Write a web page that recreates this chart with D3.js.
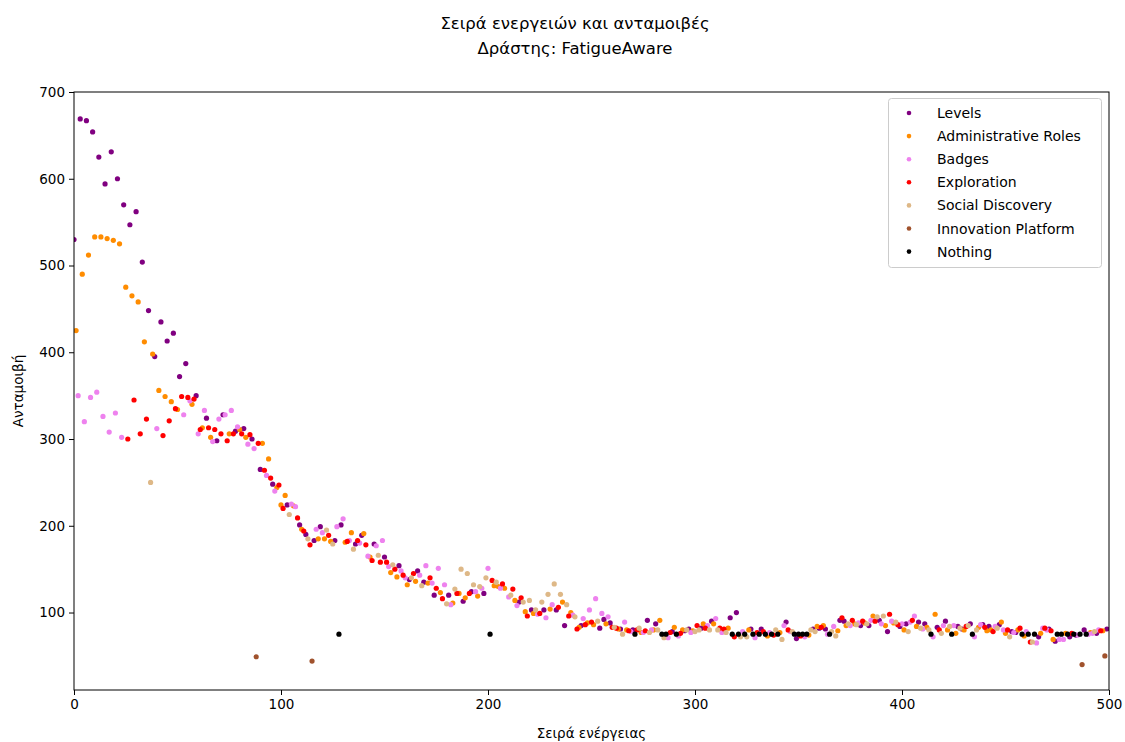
<!DOCTYPE html>
<html><head><meta charset="utf-8">
<script src="https://cdn.jsdelivr.net/npm/d3@7/dist/d3.min.js"></script>
<style>body{margin:0;background:#fff;}svg{display:block;font-family:"DejaVu Sans",sans-serif;}</style>
</head><body><svg id="c" width="1125" height="742"></svg>
<script>
const categories = ["Levels","Administrative Roles","Badges","Exploration","Social Discovery","Innovation Platform","Nothing"];
const colors = ["#800080","#ff8c00","#ee82ee","#ff0000","#deb887","#a0522d","#000000"];
const xTicks = [0,100,200,300,400,500];
const yTicks = [100,200,300,400,500,600,700];

const levels = [[0,530],[3,669],[6,667],[9,654],[12,625],[15,594],[18,631],[21,600],[24,570],[27,547],[30,562],[33,504],[36,448],[39,395],[42,435],[45,413],[48,422],[51,372],[54,387],[59,350],[64,324],[69,298],[72,328],[78,309],[82,312],[86,300],[90,265],[96,248],[103,224],[109,201],[112,190],[116,183],[119,199],[126,183],[129,201],[136,179],[139,189],[145,179],[150,164],[157,154],[162,138],[166,148],[169,135],[174,120],[181,120],[188,113],[192,124],[198,122],[215,112],[221,103],[227,103],[233,103],[237,85],[245,85],[254,82],[256,92],[259,88],[264,81],[270,80],[277,91],[281,87],[289,78],[295,79],[297,81],[303,82],[308,90],[317,94],[320,100],[327,81],[332,81],[344,89],[349,70],[357,81],[360,82],[363,81],[370,91],[372,90],[380,85],[384,85],[389,91],[393,78],[399,84],[402,87],[408,89],[411,87],[417,83],[421,90],[427,84],[429,81],[433,87],[439,86],[442,84],[447,86],[453,78],[455,77],[466,72],[471,81],[474,67],[481,72],[484,74],[488,80],[494,76],[499,81]];
const adminRoles = [[1,425],[4,490],[7,512],[10,533],[13,533],[16,531],[19,529],[22,525],[25,475],[28,465],[31,458],[34,412],[38,398],[41,356],[44,349],[47,343],[50,334],[57,340],[62,313],[66,302],[75,306],[80,311],[83,302],[91,295],[94,277],[98,244],[100,224],[102,235],[106,223],[110,196],[118,185],[121,185],[124,182],[131,181],[134,192],[140,191],[143,164],[153,146],[156,141],[161,132],[165,136],[171,134],[177,123],[183,111],[186,122],[189,117],[195,119],[203,131],[205,130],[208,128],[213,114],[218,101],[222,99],[230,104],[236,112],[240,100],[244,83],[248,88],[251,86],[257,87],[263,81],[267,80],[274,77],[280,80],[283,91],[290,83],[294,80],[299,79],[304,87],[309,87],[316,82],[326,80],[335,73],[341,77],[355,74],[359,84],[362,85],[369,79],[373,85],[377,87],[382,88],[386,96],[392,85],[396,88],[401,80],[407,84],[412,83],[416,98],[422,80],[426,76],[430,80],[437,83],[441,79],[443,80],[448,89],[450,76],[456,80],[459,73],[467,76],[473,69],[479,76],[491,77],[497,79]];
const badges = [[2,350],[5,320],[8,348],[11,354],[14,326],[17,308],[20,330],[23,302],[40,312],[53,328],[56,344],[60,306],[63,333],[67,297],[70,323],[73,328],[76,333],[79,314],[84,294],[87,289],[93,258],[97,240],[105,225],[107,222],[117,196],[120,192],[127,199],[130,208],[133,183],[138,180],[142,165],[146,177],[149,183],[152,153],[158,148],[160,140],[167,143],[170,154],[173,134],[176,151],[179,132],[182,109],[194,124],[197,128],[200,151],[206,128],[210,118],[214,108],[224,98],[228,94],[231,109],[241,97],[246,93],[249,103],[252,116],[255,99],[258,95],[266,89],[269,78],[275,77],[279,80],[287,71],[292,73],[298,77],[306,85],[310,93],[313,77],[323,78],[329,71],[336,77],[343,85],[346,78],[353,72],[364,75],[367,84],[375,85],[379,88],[385,91],[390,87],[395,90],[400,87],[404,89],[406,96],[410,81],[415,72],[420,85],[425,85],[435,72],[438,86],[445,84],[449,80],[454,77],[460,78],[465,65],[468,82],[470,80],[476,69],[478,69],[485,74],[490,75],[492,76],[495,80]];
const exploration = [[26,300],[29,345],[32,306],[35,323],[43,304],[46,321],[49,335],[52,349],[55,348],[58,346],[61,311],[65,313],[68,311],[71,306],[74,298],[77,306],[81,306],[85,305],[89,295],[92,264],[95,255],[99,247],[101,220],[108,209],[111,194],[114,178],[123,189],[132,182],[137,183],[141,178],[144,160],[148,158],[151,158],[155,150],[159,143],[164,145],[172,140],[175,128],[178,116],[185,122],[191,122],[202,137],[207,133],[212,127],[216,117],[219,96],[225,99],[234,106],[239,96],[243,81],[247,86],[250,89],[260,83],[262,82],[268,79],[272,80],[276,79],[288,77],[293,76],[301,85],[305,82],[312,82],[314,81],[319,72],[330,77],[333,78],[338,74],[345,80],[351,73],[361,83],[371,94],[376,91],[381,90],[387,90],[394,98],[398,86],[405,91],[418,80],[431,84],[440,83],[444,78],[451,80],[457,82],[462,66],[469,82],[472,79],[482,76],[496,79]];
const socialDiscovery = [[37,250],[104,213],[113,185],[122,195],[125,179],[135,173],[147,166],[154,155],[163,140],[168,131],[180,110],[184,127],[187,150],[190,145],[193,132],[196,130],[199,140],[204,135],[211,120],[217,112],[220,114],[223,103],[226,112],[229,121],[232,133],[235,121],[238,109],[242,95],[253,90],[261,83],[265,75],[273,82],[278,77],[282,80],[285,71],[296,80],[300,78],[302,80],[307,80],[311,80],[315,77],[322,72],[325,72],[339,80],[342,69],[347,78],[356,80],[358,78],[366,78],[368,73],[374,87],[378,86],[383,87],[388,95],[391,96],[397,89],[403,78],[409,82],[413,80],[419,76],[423,84],[428,82],[432,85],[436,80],[446,82],[452,72],[463,66],[493,78]];
const innovation = [[88,49],[115,44],[487,40],[498,50]];
const nothing = [[128,75],[201,75],[271,75],[284,75],[286,75],[291,75],[318,75],[321,75],[324,75],[328,75],[331,75],[334,75],[337,75],[340,75],[348,75],[350,75],[352,75],[354,75],[365,75],[414,75],[424,75],[434,75],[458,75],[461,75],[464,75],[475,75],[477,75],[480,75],[483,75],[486,75],[489,75]];
const series = [levels, adminRoles, badges, exploration, socialDiscovery, innovation, nothing];

const svg = d3.select("#c");
const L = 74, R = 1109, T = 92, B = 690;
const x = d3.scaleLinear().domain([0,500]).range([L,R]);
const y = d3.scaleLinear().domain([10.7,700]).range([B,T]);

const plot = svg.append("g");
const clip = svg.append("clipPath").attr("id","cp").append("rect").attr("x",L).attr("y",T).attr("width",R-L).attr("height",B-T);
const pts = plot.append("g").attr("clip-path","url(#cp)");
series.forEach((s,i)=>{
  pts.append("g").selectAll("circle").data(s).join("circle")
    .attr("cx",d=>x(d[0])).attr("cy",d=>y(d[1])).attr("r",2.6).attr("fill",colors[i]);
});

const xa = svg.append("g").attr("transform",`translate(0,${B})`).call(d3.axisBottom(x).tickValues(xTicks).tickSize(5).tickPadding(4));
const ya = svg.append("g").attr("transform",`translate(${L},0)`).call(d3.axisLeft(y).tickValues(yTicks).tickSize(5).tickPadding(4));
[xa,ya].forEach(a=>{a.select(".domain").remove();a.selectAll("text").attr("font-size","13.5px").attr("font-family","DejaVu Sans").attr("fill","#000");a.selectAll("line").attr("stroke","#000");});
svg.append("rect").attr("x",L).attr("y",T).attr("width",R-L).attr("height",B-T).attr("fill","none").attr("stroke","#000").attr("stroke-width",1);

svg.append("text").attr("x",(L+R)/2).attr("y",738).attr("text-anchor","middle").attr("font-size","13.5px").text("Σειρά ενέργειας");
svg.append("text").attr("transform",`translate(23,${(T+B)/2}) rotate(-90)`).attr("text-anchor","middle").attr("font-size","13.5px").text("Ανταμοιβή");
svg.append("text").attr("x",575).attr("y",29).attr("text-anchor","middle").attr("font-size","16.5px").text("Σειρά ενεργειών και ανταμοιβές");
svg.append("text").attr("x",575).attr("y",54).attr("text-anchor","middle").attr("font-size","16.5px").text("Δράστης: FatigueAware");

const lg = svg.append("g");
lg.append("rect").attr("x",888.5).attr("y",98.5).attr("width",213).attr("height",169).attr("rx",3).attr("fill","#fff").attr("fill-opacity",0.8).attr("stroke","#ccc");
categories.forEach((c,i)=>{
  const yy = 113 + i*23.1;
  lg.append("circle").attr("cx",909).attr("cy",yy).attr("r",2.3).attr("fill",colors[i]);
  lg.append("text").attr("x",937).attr("y",yy+5).attr("font-size","14px").text(c);
});
</script></body></html>
